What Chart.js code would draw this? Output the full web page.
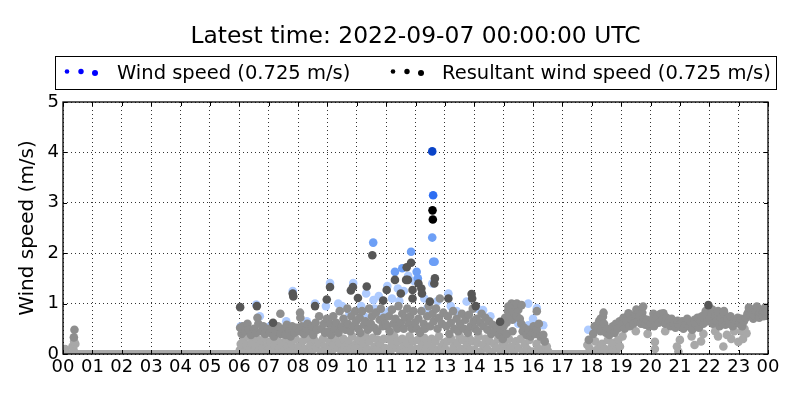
<!DOCTYPE html>
<html>
<head>
<meta charset="utf-8">
<script src="https://cdn.jsdelivr.net/npm/chart.js@4"></script>
<style>
  body { margin: 0; background: #fff; }
  #wrap { width: 800px; height: 400px; }
</style>
</head>
<body>
<div id="wrap"><canvas id="viento"></canvas></div>
<script>
// tick labels for the hour axis
const hourLabels = ['00','01','02','03','04','05','06','07','08','09','10','11','12',
                    '13','14','15','16','17','18','19','20','21','22','23','00'];
const speedTicks = [0, 1, 2, 3, 4, 5];

const chartTitle = 'Latest time: 2022-09-07 00:00:00 UTC';
const legendNames = ['Wind speed (0.725 m/s)', 'Resultant wind speed (0.725 m/s)'];

// calm periods (speed 0) as [start hour, end hour]
const calmPeriods = [[0, 6.05], [16.55, 17.9]];

// wind speed, older days (light blue)
const wsLight = [
  [6.05,0.55],[6.58,0.98],[6.7,0.75],[7.05,0.55],[7.6,0.65],[7.82,1.25],
  [8.3,0.65],[8.58,1.0],[8.95,0.95],[9.09,1.41],[9.37,1.0],[9.5,0.95],[9.75,0.8],[9.88,1.41],
  [10.15,0.95],[10.32,1.2],[10.57,1.07],[10.6,0.9],[10.75,1.15],[10.25,0.75],[10.9,0.8],
  [11.04,1.35],[11.2,1.1],[11.4,1.3],[11.6,1.25],[11.75,1.55],[11.95,1.45],[11.45,1.05],[11.1,0.85],
  [12.3,1.1],[12.57,1.4],[12.75,1.05],[12.4,0.9],[13.12,1.2],[13.2,0.95],[13.4,0.85],[13.74,1.04],
  [14.1,0.9],[14.3,0.87],[14.55,0.75],[15.5,0.6],[15.84,1.0],[15.84,0.57],
  [16.0,0.7],[16.13,0.91],[16.35,0.57],[17.88,0.48]
];
// wind speed, recent days (mid blue)
const wsMid = [
  [10.56,2.21],[11.3,1.63],[11.55,1.7],[11.85,2.03],[12.04,1.63],[12.08,1.5],
  [12.57,2.31],[12.6,1.83],[12.65,1.83]
];
const wsBright = [[12.6,3.15]];
const wsLatest = [[12.57,4.02]];

// resultant wind speed, lower cloud (light gray)
const rwLight = [
  [0.07,0.1],[0.36,0.08],[0.32,0.15],[0.42,0.2],[0.38,0.25],
  [6.02,0.08],[6.05,0.2],[6.1,0.12],[6.15,0.28],[6.2,0.05],[6.25,0.18],[6.3,0.35],[6.35,0.1],[6.42,0.22],[6.48,0.04],[6.55,0.15],[6.6,0.3],[6.68,0.08],[6.72,0.2],[6.8,0.12],[6.85,0.32],[6.9,0.05],[6.95,0.18],
  [7.02,0.1],[7.08,0.25],[7.15,0.05],[7.2,0.18],[7.28,0.3],[7.35,0.12],[7.4,0.02],[7.45,0.22],[7.52,0.08],[7.6,0.28],[7.65,0.15],[7.72,0.04],[7.78,0.2],[7.85,0.1],[7.92,0.3],[7.97,0.06],
  [8.02,0.15],[8.1,0.05],[8.15,0.25],[8.22,0.1],[8.3,0.3],[8.35,0.02],[8.42,0.18],[8.5,0.08],[8.55,0.28],[8.62,0.12],[8.7,0.22],[8.78,0.05],[8.85,0.3],[8.9,0.15],[8.96,0.08],
  [9.02,0.1],[9.08,0.25],[9.15,0.05],[9.2,0.18],[9.28,0.32],[9.35,0.12],[9.4,0.22],[9.48,0.04],[9.55,0.3],[9.6,0.15],[9.68,0.08],[9.72,0.25],[9.8,0.12],[9.85,0.35],[9.92,0.05],[9.97,0.2],
  [10.02,0.12],[10.08,0.28],[10.15,0.05],[10.22,0.2],[10.3,0.35],[10.35,0.1],[10.42,0.25],[10.5,0.02],[10.55,0.32],[10.6,0.15],[10.68,0.08],[10.72,0.28],[10.8,0.18],[10.85,0.05],[10.92,0.3],[10.97,0.12],
  [11.02,0.1],[11.08,0.3],[11.15,0.05],[11.2,0.2],[11.28,0.35],[11.35,0.12],[11.4,0.25],[11.48,0.05],[11.55,0.3],[11.6,0.15],[11.68,0.08],[11.72,0.22],[11.8,0.35],[11.85,0.1],[11.92,0.25],[11.97,0.05],
  [12.02,0.1],[12.08,0.28],[12.15,0.05],[12.22,0.18],[12.3,0.32],[12.35,0.1],[12.42,0.22],[12.5,0.05],[12.55,0.3],[12.6,0.12],[12.68,0.25],[12.75,0.08],[12.8,0.35],[12.88,0.15],[12.92,0.05],[12.97,0.22],
  [13.02,0.1],[13.08,0.25],[13.15,0.05],[13.22,0.3],[13.3,0.15],[13.35,0.02],[13.42,0.22],[13.5,0.35],[13.55,0.1],[13.62,0.28],[13.7,0.05],[13.75,0.18],[13.82,0.32],[13.88,0.08],[13.95,0.25],
  [14.02,0.08],[14.1,0.22],[14.15,0.35],[14.22,0.05],[14.3,0.18],[14.38,0.3],[14.45,0.1],[14.52,0.25],[14.6,0.04],[14.68,0.2],[14.75,0.12],[14.82,0.3],[14.9,0.06],[14.96,0.18],
  [15.02,0.2],[15.1,0.08],[15.18,0.3],[15.25,0.15],[15.35,0.05],[15.42,0.25],[15.5,0.12],[15.58,0.3],[15.65,0.05],[15.72,0.2],[15.8,0.1],[15.88,0.28],[15.95,0.05],
  [16.05,0.05],[16.12,0.2],[16.2,0.1],[16.28,0.3],[16.35,0.05],[16.42,0.15],[16.47,0.15],[16.52,0.05],
  [17.85,0.18],[17.92,0.12],[17.95,0.05],
  [18.05,0.05],[18.12,0.25],[18.2,0.1],[18.28,0.05],[18.35,0.2],[18.45,0.1],[18.55,0.28],[18.62,0.05],[18.68,0.15],[18.75,0.22],[18.85,0.08],[18.9,0.28],[18.96,0.15],
  [19.05,0.35],[19.5,0.45],[19.9,0.4],
  [20.15,0.24],[20.15,0.1],[20.5,0.45],[20.9,0.15],[20.95,0.05],
  [21.0,0.28],[21.4,0.35],[21.5,0.18],[21.72,0.25],[21.8,0.4],
  [22.2,0.45],[22.3,0.35],[22.48,0.15],[22.6,0.38],[22.75,0.3],[22.85,0.45],[22.99,0.24],
  [23.1,0.45],[23.15,0.3],[23.2,0.5],[23.27,0.41]
];
// resultant wind speed, main cloud (mid gray)
const rwMid = [
  [0.39,0.48],[0.37,0.33],
  [6.03,0.52],[6.08,0.4],[6.12,0.55],[6.2,0.45],[6.28,0.6],[6.33,0.48],[6.4,0.38],[6.5,0.5],[6.58,0.42],[6.62,0.72],[6.65,0.6],[6.75,0.45],[6.82,0.55],[6.88,0.4],[6.97,0.5],
  [7.05,0.42],[7.12,0.5],[7.18,0.35],[7.25,0.45],[7.32,0.55],[7.4,0.8],[7.42,0.4],[7.5,0.5],[7.58,0.38],[7.62,0.58],[7.7,0.46],[7.75,0.35],[7.8,0.55],[7.88,0.42],[7.95,0.52],
  [8.05,0.45],[8.07,0.82],[8.08,0.72],[8.12,0.55],[8.2,0.4],[8.28,0.5],[8.32,0.6],[8.4,0.45],[8.48,0.55],[8.52,0.38],[8.6,0.62],[8.65,0.48],[8.72,0.75],[8.8,0.5],[8.88,0.6],[8.92,0.42],[8.98,0.7],
  [9.03,0.45],[9.1,0.6],[9.12,0.38],[9.2,0.75],[9.25,0.5],[9.3,0.62],[9.38,0.42],[9.42,0.85],[9.5,0.55],[9.55,0.7],[9.62,0.48],[9.68,0.9],[9.7,0.6],[9.78,0.45],[9.82,0.75],[9.9,0.55],[9.95,0.85],[9.98,0.65],
  [10.05,0.5],[10.1,0.72],[10.12,0.42],[10.18,0.85],[10.25,0.58],[10.3,0.65],[10.38,0.48],[10.42,0.9],[10.48,0.6],[10.52,0.75],[10.6,0.52],[10.65,0.82],[10.7,0.45],[10.78,0.68],[10.82,0.9],[10.88,0.55],[10.92,0.72],[10.98,0.6],
  [11.03,0.55],[11.1,0.75],[11.12,0.45],[11.2,0.88],[11.25,0.6],[11.32,0.7],[11.38,0.5],[11.42,0.95],[11.5,0.62],[11.55,0.8],[11.6,0.5],[11.65,0.72],[11.72,0.9],[11.78,0.6],[11.82,0.75],[11.88,0.5],[11.93,0.85],[11.98,0.62],
  [12.05,0.5],[12.1,0.7],[12.15,0.42],[12.2,0.85],[12.28,0.6],[12.32,0.5],[12.4,0.75],[12.45,0.95],[12.5,0.55],[12.58,0.8],[12.62,0.65],[12.7,0.9],[12.75,0.5],[12.8,0.72],[12.83,1.1],[12.9,0.6],[12.95,0.82],
  [13.05,0.55],[13.1,0.75],[13.15,0.4],[13.2,0.62],[13.28,0.85],[13.32,0.5],[13.4,0.7],[13.45,0.45],[13.52,0.6],[13.58,0.8],[13.65,0.5],[13.7,0.68],[13.78,0.42],[13.82,0.78],[13.88,0.55],[13.95,0.9],[13.98,0.65],
  [14.03,0.5],[14.08,0.7],[14.12,0.45],[14.2,0.62],[14.25,0.8],[14.32,0.55],[14.38,0.72],[14.45,0.48],[14.5,0.65],[14.58,0.4],[14.62,0.58],[14.7,0.45],[14.78,0.55],[14.85,0.38],[14.9,0.48],[14.97,0.3],
  [15.0,0.55],[15.05,0.72],[15.1,0.62],[15.15,0.85],[15.2,0.75],[15.25,0.9],[15.3,0.68],[15.35,0.82],[15.4,0.95],[15.45,0.75],[15.5,0.88],[15.55,0.7],[15.6,0.6],[15.65,0.45],[15.7,0.52],[15.78,0.38],[15.85,0.48],[15.92,0.35],[15.98,0.42],[15.1,0.4],[15.3,0.45],
  [15.27,1.0],[15.35,0.98],[15.45,1.0],[15.16,0.94],[15.61,0.97],
  [16.02,0.55],[16.08,0.4],[16.13,0.85],[16.13,0.48],[16.2,0.6],[16.25,0.35],[16.35,0.38],[16.4,0.25],
  [17.9,0.28],
  [18.05,0.4],[18.1,0.55],[18.2,0.5],[18.25,0.65],[18.3,0.45],[18.3,0.7],[18.34,0.51],[18.38,0.74],[18.4,0.82],[18.42,0.6],[18.48,0.42],[18.55,0.5],[18.6,0.38],[18.65,0.48],[18.72,0.55],[18.78,0.42],[18.82,0.6],[18.88,0.5],[18.95,0.65],
  [19.02,0.6],[19.08,0.72],[19.12,0.5],[19.18,0.65],[19.25,0.81],[19.3,0.55],[19.3,0.78],[19.35,0.7],[19.42,0.6],[19.48,0.78],[19.52,0.88],[19.58,0.65],[19.6,0.85],[19.62,0.75],[19.68,0.6],[19.72,0.82],[19.75,0.94],[19.78,0.7],[19.82,0.58],[19.88,0.68],[19.95,0.55],
  [20.02,0.6],[20.08,0.7],[20.1,0.8],[20.12,0.55],[20.2,0.72],[20.28,0.62],[20.3,0.78],[20.35,0.8],[20.4,0.68],[20.44,0.81],[20.5,0.6],[20.55,0.72],[20.62,0.65],[20.68,0.55],[20.72,0.7],[20.8,0.6],[20.85,0.52],[20.92,0.66],[20.97,0.58],
  [21.02,0.55],[21.08,0.65],[21.12,0.5],[21.2,0.6],[21.25,0.7],[21.3,0.55],[21.38,0.62],[21.42,0.48],[21.5,0.68],[21.55,0.58],[21.6,0.72],[21.65,0.52],[21.7,0.65],[21.75,0.75],[21.8,0.6],[21.85,0.7],[21.88,0.85],[21.9,0.8],[21.95,0.65],
  [22.02,0.7],[22.08,0.82],[22.1,0.88],[22.12,0.6],[22.2,0.75],[22.25,0.65],[22.3,0.85],[22.35,0.55],[22.4,0.72],[22.45,0.62],[22.5,0.8],[22.5,0.85],[22.55,0.58],[22.62,0.7],[22.68,0.6],[22.72,0.75],[22.8,0.55],[22.85,0.68],[22.92,0.62],[22.97,0.72],
  [23.02,0.6],[23.08,0.7],[23.12,0.55],[23.18,0.65],[23.25,0.72],[23.3,0.8],[23.35,0.85],[23.35,0.92],[23.4,0.78],[23.45,0.88],[23.5,0.82],[23.5,0.7],[23.55,0.76],[23.6,0.85],[23.62,0.94],[23.65,0.9],[23.7,0.8],[23.7,0.72],[23.75,0.86],[23.8,0.78],[23.85,0.88],[23.85,0.75],[23.9,0.82],[23.9,0.92],[23.95,0.9],[23.95,0.76],[23.98,0.84]
];
// resultant wind speed, darker points
const rwDark = [
  [6.03,0.93],[6.6,0.95],[7.15,0.62],[7.82,1.2],[7.84,1.14],
  [8.58,0.95],[8.98,1.08],[9.09,1.33],[9.8,1.26],[9.87,1.33],
  [10.04,1.11],[10.34,1.34],[10.53,1.96],[10.9,1.06],
  [11.02,1.27],[11.3,1.47],[11.5,1.2],[11.68,1.47],[11.74,1.47],[11.7,1.72],[11.85,1.81],[11.9,1.27],[11.9,1.1],
  [12.1,1.4],[12.2,1.3],[12.22,1.2],[12.49,1.04],[12.64,1.4],[12.66,1.5],
  [13.12,1.1],[13.91,1.19],[13.93,1.1],[14.05,0.95],[14.88,0.64],
  [21.97,0.97]
];
const rwLatest = [[12.58,2.85],[12.59,2.67]];

function puntos(arr) {
  return arr.map(p => ({x: p[0], y: p[1]}));
}

function nube(data, color, order) {
  return {
    type: 'scatter',
    data: puntos(data),
    backgroundColor: color,
    borderWidth: 0,
    pointRadius: 4.3,
    pointHoverRadius: 4.3,
    clip: 0,
    order: order
  };
}

const calmSets = calmPeriods.map(c => ({
  type: 'line',
  data: [{x: c[0], y: 0}, {x: c[1], y: 0}],
  borderColor: '#a9a9a9',
  borderWidth: 8,
  pointRadius: 0,
  clip: 0,
  order: 20
}));

// title, legend box and frame with inward ticks, drawn like matplotlib
const marco = {
  id: 'marco',
  afterDraw(chart) {
    const ctx = chart.ctx;
    const a = chart.chartArea;
    const xs = chart.scales.x, ys = chart.scales.y;
    ctx.save();
    ctx.fillStyle = '#000';
    ctx.textAlign = 'center';
    ctx.textBaseline = 'alphabetic';
    ctx.font = '23.4px "DejaVu Sans"';
    ctx.fillText(chartTitle, (a.left + a.right) / 2, 43);

    // legend box
    ctx.strokeStyle = '#000';
    ctx.lineWidth = 1;
    ctx.strokeRect(55.5, 56.5, 721, 33);
    const dots = (x0, color) => {
      ctx.fillStyle = color;
      [[0, 71.5, 2.3], [14, 71.5, 2.7], [28, 73, 3]].forEach(d => {
        ctx.beginPath();
        ctx.arc(x0 + d[0], d[1], d[2], 0, Math.PI * 2);
        ctx.fill();
      });
    };
    dots(67, '#0000ff');
    dots(393, '#000000');
    ctx.fillStyle = '#000';
    ctx.textAlign = 'left';
    ctx.font = '19.5px "DejaVu Sans"';
    ctx.fillText(legendNames[0], 117, 79);
    ctx.fillText(legendNames[1], 442, 79);

    // frame
    ctx.lineWidth = 1.3;
    ctx.strokeRect(a.left, a.top, a.right - a.left, a.bottom - a.top);
    ctx.lineWidth = 1;
    ctx.beginPath();
    xs.ticks.forEach(t => {
      const px = Math.round(xs.getPixelForValue(t.value)) + 0.5;
      ctx.moveTo(px, a.bottom); ctx.lineTo(px, a.bottom - 4);
      ctx.moveTo(px, a.top); ctx.lineTo(px, a.top + 4);
    });
    ys.ticks.forEach(t => {
      const py = Math.round(ys.getPixelForValue(t.value)) + 0.5;
      ctx.moveTo(a.left, py); ctx.lineTo(a.left + 4, py);
      ctx.moveTo(a.right, py); ctx.lineTo(a.right - 4, py);
    });
    ctx.stroke();
    ctx.restore();
  }
};

Chart.defaults.font.family = '"DejaVu Sans"';
Chart.defaults.color = '#000';

const miCanvas = document.getElementById('viento').getContext('2d');

const vientoChart = new Chart(miCanvas, {
  type: 'scatter',
  data: {
    datasets: [
      ...calmSets,
      nube(wsLight, '#aecbff', 15),
      nube(wsMid, '#6d9ff6', 14),
      nube(rwLight, '#a8a8a8', 13),
      nube(rwMid, '#8e8e8e', 12),
      nube(rwDark, '#575757', 11),
      nube(wsBright, '#2e6ef2', 3),
      nube(rwLatest, '#000000', 2),
      nube(wsLatest, '#0a44c8', 1)
    ]
  },
  options: {
    responsive: true,
    maintainAspectRatio: false,
    animation: false,
    devicePixelRatio: 1,
    layout: { padding: { top: 102, right: 32, left: 0, bottom: 0 } },
    plugins: {
      legend: { display: false },
      tooltip: { enabled: false }
    },
    scales: {
      x: {
        type: 'linear',
        min: 0,
        max: 24,
        afterBuildTicks: s => { s.ticks = hourLabels.map((l, i) => ({value: i})); },
        afterFit: s => { s.height = 46; },
        ticks: {
          autoSkip: false,
          maxRotation: 0,
          padding: 3,
          font: { size: 18 },
          callback: v => hourLabels[v]
        },
        grid: { color: '#000', lineWidth: 0.8, drawTicks: false },
        border: { display: false, dash: [1, 3] }
      },
      y: {
        min: 0,
        max: 5,
        afterBuildTicks: s => { s.ticks = speedTicks.map(v => ({value: v})); },
        afterFit: s => { s.width = 63; },
        ticks: { padding: 4, font: { size: 18 } },
        grid: { color: '#000', lineWidth: 0.8, drawTicks: false },
        border: { display: false, dash: [1, 3] },
        title: {
          display: true,
          text: 'Wind speed (m/s)',
          font: { size: 20, lineHeight: 1.2 },
          padding: { top: 16, bottom: 0 }
        }
      }
    }
  },
  plugins: [marco]
});
</script>
</body>
</html>
